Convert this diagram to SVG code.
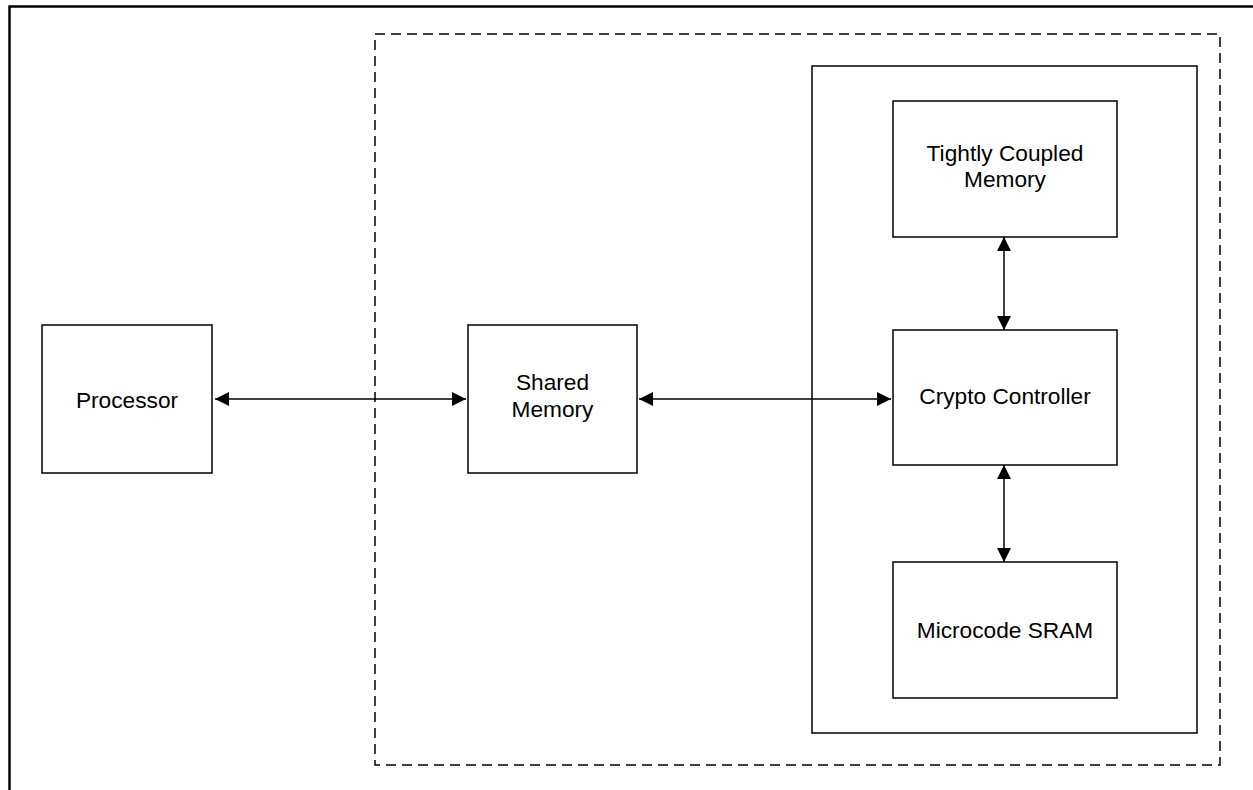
<svg xmlns="http://www.w3.org/2000/svg" width="1253" height="790" viewBox="0 0 1253 790">
<style>
.box{fill:#fff;stroke:#000;stroke-width:1.5}
.lbl{font-family:"Liberation Sans",Arial,sans-serif;font-size:22.7px;fill:#000;text-anchor:middle}
.con{stroke:#000;stroke-width:1.5;fill:none;marker-start:url(#ah);marker-end:url(#ah)}
</style>
<defs>
<marker id="ah" viewBox="0 0 10 10" refX="10" refY="5" markerWidth="14" markerHeight="15" markerUnits="userSpaceOnUse" orient="auto-start-reverse">
<path d="M0,0 L10,5 L0,10 Z" fill="#000"/>
</marker>
</defs>
<rect width="1253" height="790" fill="#fff"/>
<g id="frame">
<path d="M9.5,800 V6.5 H1260" fill="none" stroke="#000" stroke-width="2.5"/>
</g>
<g id="subsystem">
<rect x="375" y="34" width="845" height="731" fill="none" stroke="#000" stroke-width="1.5" stroke-dasharray="10,6"/>
</g>
<g id="crypto-block">
<rect x="812" y="66" width="385" height="667" class="box"/>
</g>
<g id="processor">
<rect x="42" y="325" width="170" height="148" class="box"/>
<text x="127" y="408" class="lbl">Processor</text>
</g>
<g id="shared-memory">
<rect x="468" y="325" width="169" height="148" class="box"/>
<text x="552.5" y="390" class="lbl">Shared</text>
<text x="552.5" y="416.5" class="lbl">Memory</text>
</g>
<g id="tcm">
<rect x="893" y="101" width="224" height="136" class="box"/>
<text x="1005" y="161" class="lbl">Tightly Coupled</text>
<text x="1005" y="187" class="lbl">Memory</text>
</g>
<g id="crypto-controller">
<rect x="893" y="330" width="224" height="135" class="box"/>
<text x="1005" y="404" class="lbl">Crypto Controller</text>
</g>
<g id="microcode-sram">
<rect x="893" y="562" width="224" height="136" class="box"/>
<text x="1005" y="637.5" class="lbl">Microcode SRAM</text>
</g>
<g id="connectors">
<line x1="215" y1="399" x2="466" y2="399" class="con"/>
<line x1="639" y1="399" x2="891" y2="399" class="con"/>
<line x1="1004" y1="237" x2="1004" y2="330" class="con"/>
<line x1="1004" y1="465" x2="1004" y2="562" class="con"/>
</g>
</svg>
